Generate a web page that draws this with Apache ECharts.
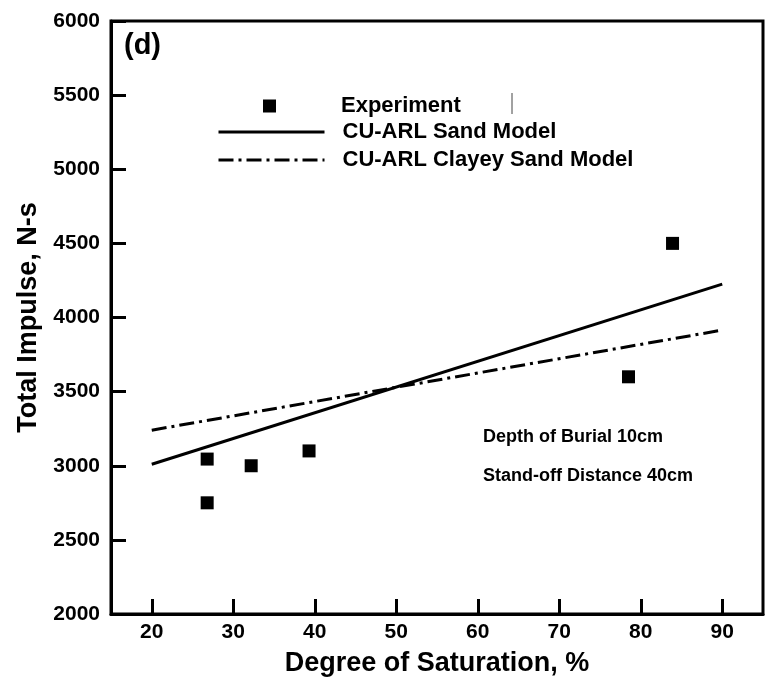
<!DOCTYPE html>
<html>
<head>
<meta charset="utf-8">
<script src="https://cdn.jsdelivr.net/npm/echarts@6/dist/echarts.min.js"></script>
<style>
  html, body { margin: 0; padding: 0; background: #fff; }
  #chart { width: 767px; height: 689px; }
</style>
</head>
<body>
<div id="chart"></div>
<script>
// experiment points: [degree of saturation %, total impulse N-s]
const experiment = [
  [26.8, 3045],
  [26.8, 2750],
  [32.2, 3000],
  [39.3, 3100],
  [78.5, 3600],
  [83.9, 4500]
]
// model lines, end points at 20% and 90%
const sandModel = [[20, 3010], [90, 4225]]
const clayeySandModel = [[20, 3240], [90, 3915]]

const xTicks = [20, 30, 40, 50, 60, 70, 80, 90]

const font = 'Liberation Sans, Arial, sans-serif'

const chart = echarts.init(document.getElementById('chart'))

chart.setOption({
  animation: false,
  grid: {
    left: 111,
    right: 4,
    top: 21,
    bottom: 75,
    show: true,
    borderColor: '#000',
    borderWidth: 3
  },
  legend: [{
    data: ['Experiment'],
    left: 263,
    top: 95,
    padding: 0,
    itemWidth: 13,
    itemHeight: 13,
    itemStyle: { opacity: 1 },
    textStyle: {
      fontFamily: font,
      fontWeight: 'bold',
      fontSize: 22,
      color: '#000',
      padding: [0, 0, 0, 60]
    }
  }, {
    data: ['CU-ARL Sand Model', 'CU-ARL Clayey Sand Model'],
    orient: 'vertical',
    left: 217,
    top: 121,
    padding: 0,
    itemWidth: 106,
    itemHeight: 14,
    itemGap: 6,
    itemStyle: { opacity: 0 },
    lineStyle: { width: 3 },
    textStyle: {
      fontFamily: font,
      fontWeight: 'bold',
      fontSize: 22,
      lineHeight: 22,
      color: '#000',
      padding: [0, 0, 0, 13]
    }
  }],
  xAxis: {
    type: 'value',
    min: 15,
    max: 95,
    name: 'Degree of Saturation, %',
    nameLocation: 'middle',
    nameGap: 36,
    nameTextStyle: {
      fontFamily: font,
      fontWeight: 'bold',
      fontSize: 27,
      color: '#000'
    },
    axisLine: { lineStyle: { color: '#000', width: 3 } },
    axisTick: {
      inside: true,
      length: 15,
      customValues: xTicks,
      lineStyle: { color: '#000', width: 3 }
    },
    axisLabel: {
      customValues: xTicks,
      margin: 8,
      fontFamily: font,
      fontWeight: 'bold',
      fontSize: 21,
      color: '#000'
    },
    splitLine: { show: false }
  },
  yAxis: {
    type: 'value',
    min: 2000,
    max: 6000,
    interval: 500,
    name: 'Total Impulse, N-s',
    nameLocation: 'middle',
    nameGap: 68,
    nameTextStyle: {
      fontFamily: font,
      fontWeight: 'bold',
      fontSize: 27,
      color: '#000'
    },
    axisLine: { lineStyle: { color: '#000', width: 3 } },
    axisTick: {
      inside: true,
      length: 15,
      lineStyle: { color: '#000', width: 3 }
    },
    axisLabel: {
      margin: 11,
      formatter: v => String(v),
      fontFamily: font,
      fontWeight: 'bold',
      fontSize: 21,
      color: '#000'
    },
    splitLine: { show: false }
  },
  graphic: [{
    type: 'text',
    left: 124,
    top: 31,
    style: {
      text: '(d)',
      font: 'bold 29px ' + font,
      fill: '#000'
    }
  }, {
    type: 'text',
    left: 483,
    top: 428,
    style: {
      text: 'Depth of Burial 10cm',
      font: 'bold 18px ' + font,
      fill: '#000'
    }
  }, {
    type: 'text',
    left: 483,
    top: 467,
    style: {
      text: 'Stand-off Distance 40cm',
      font: 'bold 18px ' + font,
      fill: '#000'
    }
  }, {
    // stray cursor mark next to the legend
    type: 'line',
    shape: { x1: 512, y1: 93, x2: 512, y2: 114 },
    style: { stroke: '#444', lineWidth: 1 }
  }],
  series: [{
    name: 'Experiment',
    type: 'scatter',
    symbol: 'rect',
    symbolSize: 13,
    itemStyle: { color: '#000', opacity: 1 },
    data: experiment,
    z: 3
  }, {
    name: 'CU-ARL Sand Model',
    type: 'line',
    symbol: 'none',
    data: sandModel,
    lineStyle: { color: '#000', width: 3 },
    itemStyle: { color: '#000' }
  }, {
    name: 'CU-ARL Clayey Sand Model',
    type: 'line',
    symbol: 'none',
    data: clayeySandModel,
    lineStyle: { color: '#000', width: 3, type: [15, 5, 3, 5] },
    itemStyle: { color: '#000' }
  }]
})
</script>
</body>
</html>
